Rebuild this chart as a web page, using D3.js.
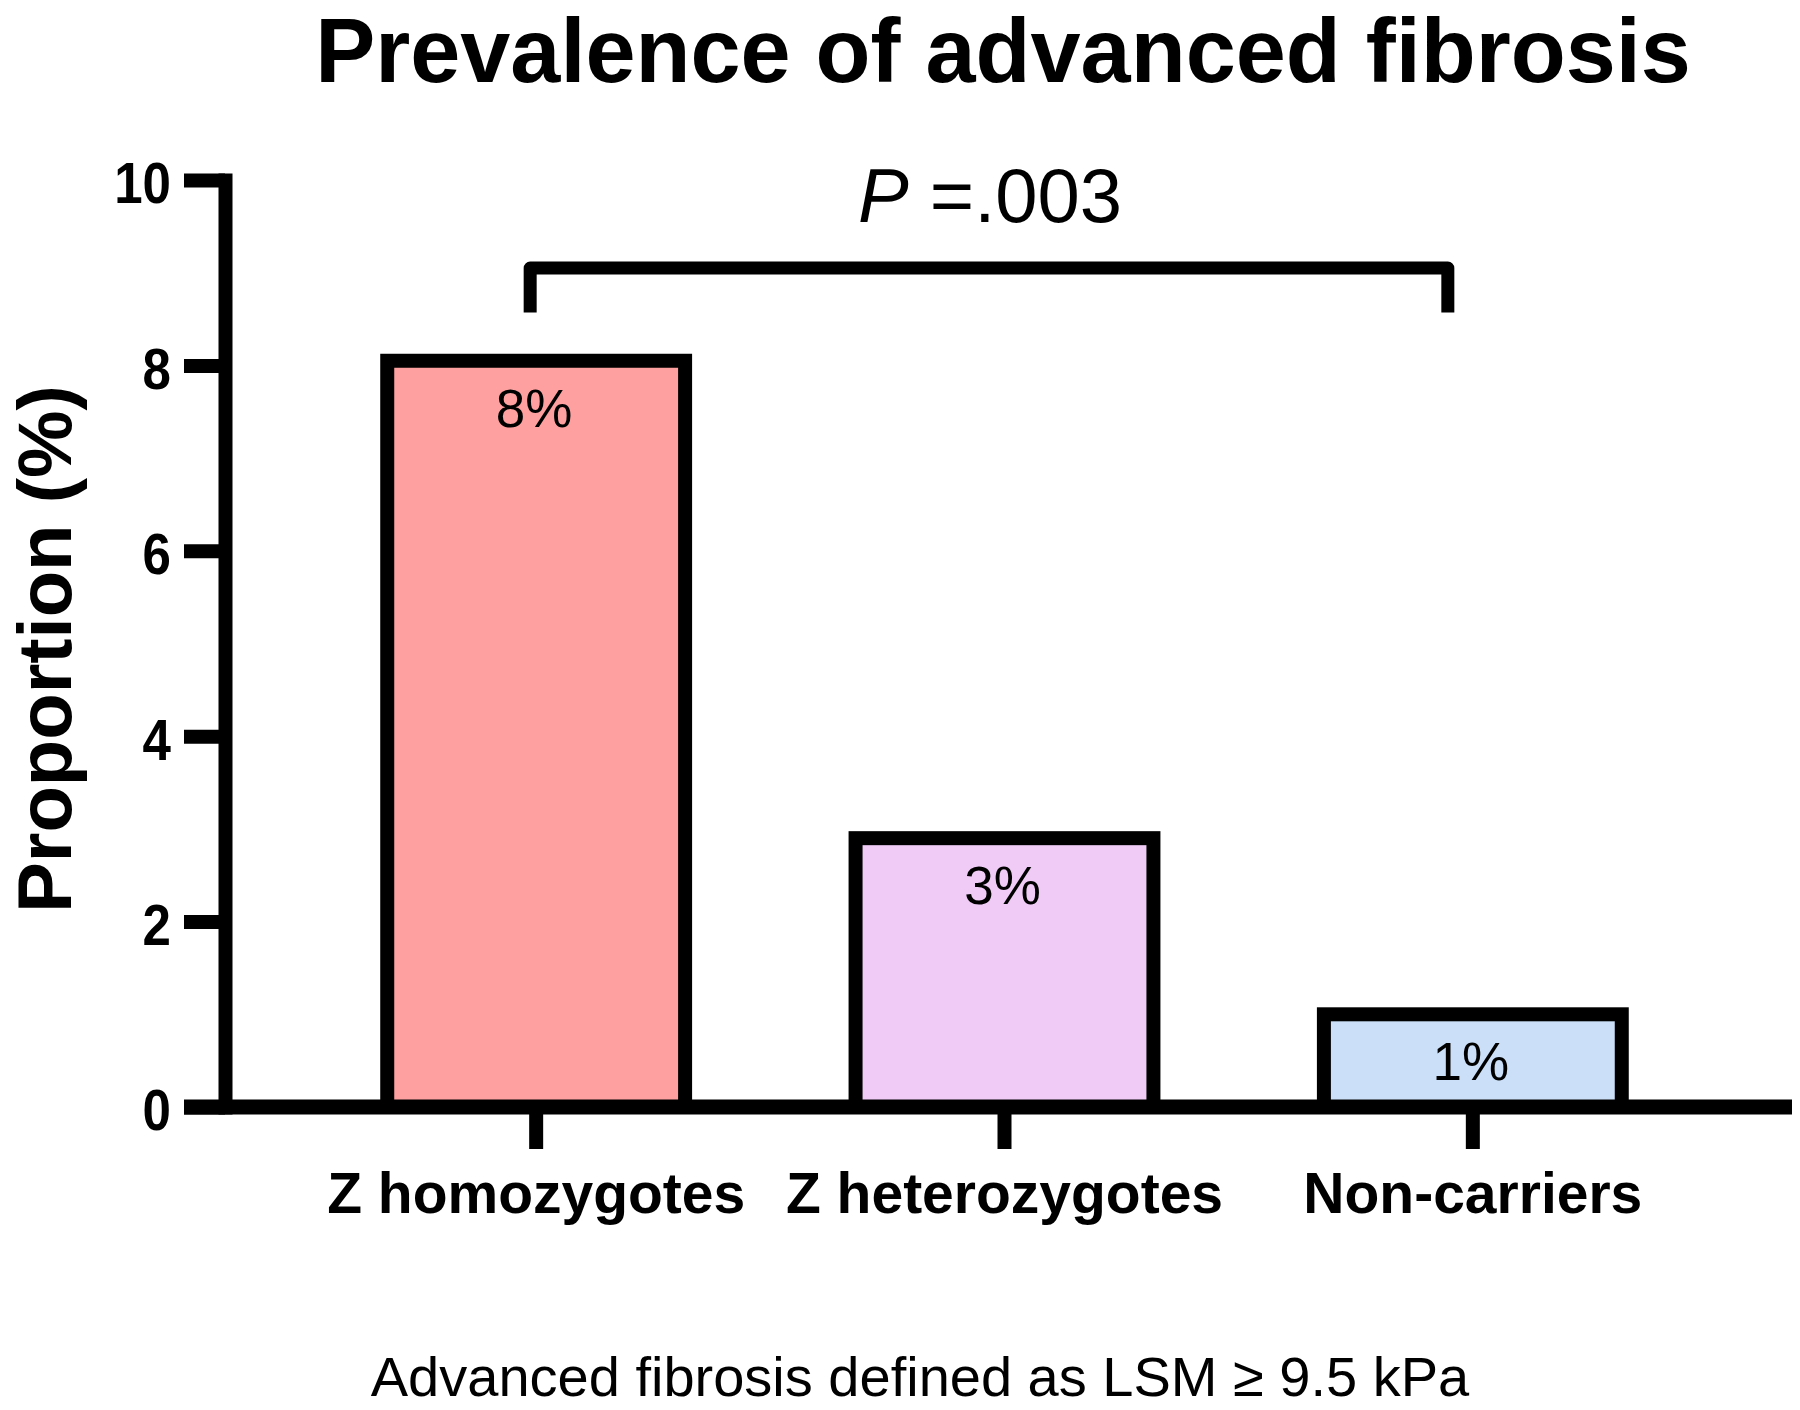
<!DOCTYPE html>
<html>
<head>
<meta charset="utf-8">
<script src="https://cdn.jsdelivr.net/npm/d3@7"></script>
<style>
  html, body { margin: 0; padding: 0; background: #fff; }
  svg { display: block; }
  text { font-family: "Liberation Sans", Arial, Helvetica, sans-serif; fill: #000; }
</style>
</head>
<body>
<svg id="chart" width="1800" height="1410"></svg>
<script>
// ---- data ----
const categories = ["Z homozygotes", "Z heterozygotes", "Non-carriers"];
const values = [8.05, 2.9, 1.0];
const valueLabels = ["8%", "3%", "1%"];
const barColors = ["#fea0a0", "#efcbf6", "#cbe0f8"];
const yTicks = [0, 2, 4, 6, 8, 10];
const titleText = "Prevalence of advanced fibrosis";
const yLabelText = "Proportion (%)";
const footText = "Advanced fibrosis defined as LSM \u2265 9.5 kPa";
const pValueText = "=.003";
const bracketLevel = [9.05, 8.57]; // top and foot of the comparison bracket (axis units)

// ---- layout ----
const svg = d3.select("#chart");
const SW = 14;
const axisX = 225;
const x = d3.scaleBand().domain(categories).range([302, 1707]).paddingInner(0.364).paddingOuter(0.182);
const y = d3.scaleLinear().domain([0, 10]).range([1107, 180]);
const cx = c => x(c) + x.bandwidth() / 2;

// title
svg.append("text").attr("x", 1003).attr("y", 82).attr("text-anchor", "middle")
  .style("font-size", "90px").style("font-weight", "bold").text(titleText);

// bars
svg.selectAll("rect.bar").data(categories).enter().append("rect")
  .attr("class", "bar")
  .attr("x", d => x(d)).attr("width", x.bandwidth())
  .attr("y", (d, i) => y(values[i])).attr("height", (d, i) => y(0) - y(values[i]))
  .attr("fill", (d, i) => barColors[i])
  .attr("stroke", "#000").attr("stroke-width", SW);

// value labels
svg.selectAll("text.vlab").data(categories).enter().append("text")
  .attr("class", "vlab")
  .attr("x", d => cx(d) - 2).attr("y", (d, i) => y(values[i]) + 66)
  .attr("text-anchor", "middle").style("font-size", "53px")
  .text((d, i) => valueLabels[i]);

// y axis
const yAxis = d3.axisLeft(y).tickValues(yTicks).tickSize(41).tickSizeOuter(0).tickPadding(14);
const gy = svg.append("g").attr("transform", `translate(${axisX},0)`).call(yAxis);
gy.select(".domain").attr("stroke", "#000").attr("stroke-width", SW).attr("stroke-linecap", "square");
gy.selectAll(".tick line").attr("stroke", "#000").attr("stroke-width", SW);
gy.selectAll(".tick text").style("font-size", "58px").style("font-weight", "bold")
  .style("font-family", '"Liberation Sans", Arial, sans-serif').attr("fill", "#000")
  .attr("x", 0).attr("dy", "0.36em")
  .attr("transform", "translate(-54,2) scale(0.88,1)");

// x axis
const xAxis = d3.axisBottom(x).tickSize(42).tickSizeOuter(0).tickPadding(24);
const gx = svg.append("g").attr("transform", `translate(0,${y(0)})`).call(xAxis);
gx.select(".domain").remove();
gx.selectAll(".tick line").attr("stroke", "#000").attr("stroke-width", SW);
gx.selectAll(".tick text").style("font-size", "57px").style("font-weight", "bold")
  .style("font-family", '"Liberation Sans", Arial, sans-serif').attr("fill", "#000").attr("dy", "0.71em");
svg.append("line").attr("x1", axisX - 41).attr("x2", 1792).attr("y1", y(0)).attr("y2", y(0))
  .attr("stroke", "#000").attr("stroke-width", 15);

// y label
svg.append("text").attr("transform", `translate(71,${649}) rotate(-90)`)
  .attr("text-anchor", "middle").style("font-size", "76px").style("font-weight", "bold")
  .text(yLabelText);

// bracket
const bx1 = cx(categories[0]) - 6, bx2 = cx(categories[2]) - 25;
svg.append("path")
  .attr("d", `M${bx1},${y(bracketLevel[1])} V${y(bracketLevel[0])} H${bx2} V${y(bracketLevel[1])}`)
  .attr("fill", "none").attr("stroke", "#000").attr("stroke-width", 13).attr("stroke-linejoin", "round");

// p-value
const pt = svg.append("text").attr("x", 990).attr("y", 222).attr("text-anchor", "middle").style("font-size", "76px");
pt.append("tspan").style("font-style", "italic").text("P");
pt.append("tspan").text(" " + pValueText);

// footnote
svg.append("text").attr("x", 920).attr("y", 1396).attr("text-anchor", "middle")
  .style("font-size", "56px").text(footText);
</script>
</body>
</html>
